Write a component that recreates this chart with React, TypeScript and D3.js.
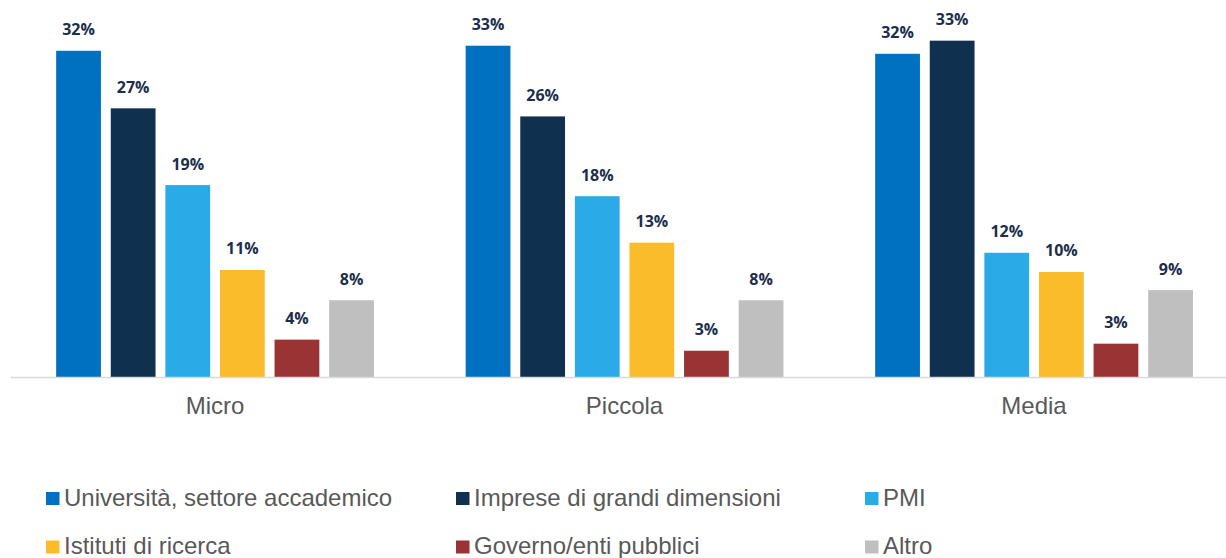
import React from "react";
import * as d3 from "d3";

const categories = ["Micro", "Piccola", "Media"];
const seriesNames = [
  "Università, settore accademico",
  "Imprese di grandi dimensioni",
  "PMI",
  "Istituti di ricerca",
  "Governo/enti pubblici",
  "Altro",
];
const seriesColors = ["#0070C0", "#10304F", "#2AABE8", "#FBBC2C", "#993334", "#BFBFBF"];
// values per category (percent), order = seriesNames
const microValues = [32.3, 26.6, 19.0, 10.6, 3.7, 7.6];
const piccolaValues = [32.8, 25.8, 17.9, 13.3, 2.6, 7.6];
const mediaValues = [32.0, 33.3, 12.3, 10.4, 3.3, 8.6];
const valuesByCategory = [microValues, piccolaValues, mediaValues];

const W = 1226;
const H = 558;

export default function App() {
  const x0 = d3.scaleBand<string>().domain(categories).range([10.25, 10.25 + 409.5 * 3]).padding(0);
  const x1 = d3
    .scaleBand<string>()
    .domain(seriesNames)
    .range([41, 368.6])
    .paddingInner(0.18)
    .paddingOuter(0.09);
  const y = d3.scaleLinear().domain([0, 35]).range([377, 377 - 35 * 10.1]);

  const legendCols = [46, 456, 865];
  const legendRows = [492, 540.5];

  return (
    <svg
      width={W}
      height={H}
      style={{ position: "absolute", left: 0, top: 0, background: "#fff" }}
    >
      {categories.map((cat, ci) => (
        <g key={cat} transform={`translate(${x0(cat)},0)`}>
          {seriesNames.map((s, si) => {
            const v = valuesByCategory[ci][si];
            const bx = x1(s)!;
            const by = y(v);
            return (
              <g key={s}>
                <rect
                  x={bx}
                  y={by}
                  width={x1.bandwidth()}
                  height={y(0) - by}
                  fill={seriesColors[si]}
                />
                <text
                  x={bx + x1.bandwidth() / 2}
                  y={by - 15.5}
                  textAnchor="middle"
                  fontFamily="'Open Sans', sans-serif"
                  fontWeight={700}
                  fontSize={16}
                  fill="#1B2E4B"
                >
                  {`${Math.round(v)}%`}
                </text>
              </g>
            );
          })}
          <text
            x={x0.bandwidth() / 2}
            y={414}
            textAnchor="middle"
            fontFamily="'Liberation Sans', Arial, sans-serif"
            fontSize={24}
            fill="#595959"
          >
            {cat}
          </text>
        </g>
      ))}
      <line x1={11} x2={W} y1={377.5} y2={377.5} stroke="#D9D9D9" strokeWidth={1.5} />
      {seriesNames.map((s, i) => {
        const col = i % 3;
        const row = Math.floor(i / 3);
        const mx = legendCols[col];
        const my = legendRows[row];
        return (
          <g key={s}>
            <rect x={mx} y={my} width={13.5} height={13} fill={seriesColors[i]} />
            <text
              x={mx + 18}
              y={my + 13.6}
              fontFamily="'Liberation Sans', Arial, sans-serif"
              fontSize={24}
              fill="#595959"
            >
              {s}
            </text>
          </g>
        );
      })}
    </svg>
  );
}
